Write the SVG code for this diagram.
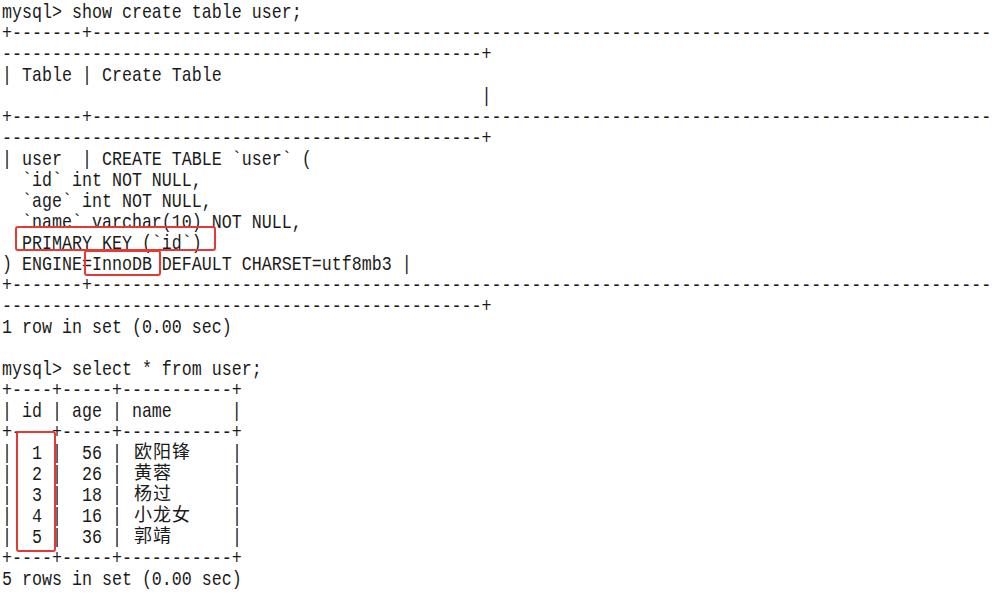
<svg xmlns="http://www.w3.org/2000/svg" width="992" height="602" viewBox="0 0 992 602">
<style>
.t{font-family:"Liberation Mono","DejaVu Sans Mono",monospace;font-size:20px;fill:#1a1a1a;white-space:pre}
.c{font-family:"Noto Sans CJK SC","Noto Sans CJK JP",sans-serif;font-size:18px;fill:#1a1a1a;letter-spacing:1px}
.box{fill:none;stroke:#e53935;stroke-width:2;rx:2}
</style>
<rect width="992" height="602" fill="#ffffff"/>
<g id="terminal" transform="translate(2,0) scale(0.83333,1)">
<g id="show-create">
<text class="t" x="0" y="18" xml:space="preserve">mysql&gt; show create table user;</text>
<text class="t" x="0" y="39" xml:space="preserve">+-------+------------------------------------------------------------------------------------------</text>
<text class="t" x="0" y="60" xml:space="preserve">------------------------------------------------+</text>
<text class="t" x="0" y="81" xml:space="preserve">| Table | Create Table</text>
<text class="t" x="0" y="102" xml:space="preserve">                                                |</text>
<text class="t" x="0" y="123" xml:space="preserve">+-------+------------------------------------------------------------------------------------------</text>
<text class="t" x="0" y="144" xml:space="preserve">------------------------------------------------+</text>
<text class="t" x="0" y="165" xml:space="preserve">| user  | CREATE TABLE `user` (</text>
<text class="t" x="0" y="186" xml:space="preserve">  `id` int NOT NULL,</text>
<text class="t" x="0" y="207" xml:space="preserve">  `age` int NOT NULL,</text>
<text class="t" x="0" y="228" xml:space="preserve">  `name` varchar(10) NOT NULL,</text>
<text class="t" x="0" y="249" xml:space="preserve">  PRIMARY KEY (`id`)</text>
<text class="t" x="0" y="270" xml:space="preserve">) ENGINE=InnoDB DEFAULT CHARSET=utf8mb3 |</text>
<text class="t" x="0" y="291" xml:space="preserve">+-------+------------------------------------------------------------------------------------------</text>
<text class="t" x="0" y="312" xml:space="preserve">------------------------------------------------+</text>
<text class="t" x="0" y="333" xml:space="preserve">1 row in set (0.00 sec)</text>
</g>
<g id="select">
<text class="t" x="0" y="375" xml:space="preserve">mysql&gt; select * from user;</text>
<text class="t" x="0" y="396" xml:space="preserve">+----+-----+-----------+</text>
<text class="t" x="0" y="417" xml:space="preserve">| id | age | name      |</text>
<text class="t" x="0" y="438" xml:space="preserve">+----+-----+-----------+</text>
<text class="t" x="0" y="459" xml:space="preserve">|  1 |  56 |</text>
<text class="t" x="0" y="480" xml:space="preserve">|  2 |  26 |</text>
<text class="t" x="0" y="501" xml:space="preserve">|  3 |  18 |</text>
<text class="t" x="0" y="522" xml:space="preserve">|  4 |  16 |</text>
<text class="t" x="0" y="543" xml:space="preserve">|  5 |  36 |</text>
<text class="t" x="276" y="459">|</text>
<text class="t" x="276" y="480">|</text>
<text class="t" x="276" y="501">|</text>
<text class="t" x="276" y="522">|</text>
<text class="t" x="276" y="543">|</text>
<text class="t" x="0" y="564" xml:space="preserve">+----+-----+-----------+</text>
<text class="t" x="0" y="585" xml:space="preserve">5 rows in set (0.00 sec)</text>
</g>
</g>
<g id="names">
<text class="c" x="134" y="458">欧阳锋</text>
<text class="c" x="134" y="479">黄蓉</text>
<text class="c" x="134" y="500">杨过</text>
<text class="c" x="134" y="521">小龙女</text>
<text class="c" x="134" y="542">郭靖</text>
</g>
<g id="highlights">
<rect id="hl-primary" class="box" x="16" y="227" width="199" height="23"/>
<rect id="hl-engine" class="box" x="85" y="251" width="75" height="24"/>
<rect id="hl-id" class="box" x="17" y="432" width="38" height="119"/>
</g>
</svg>
